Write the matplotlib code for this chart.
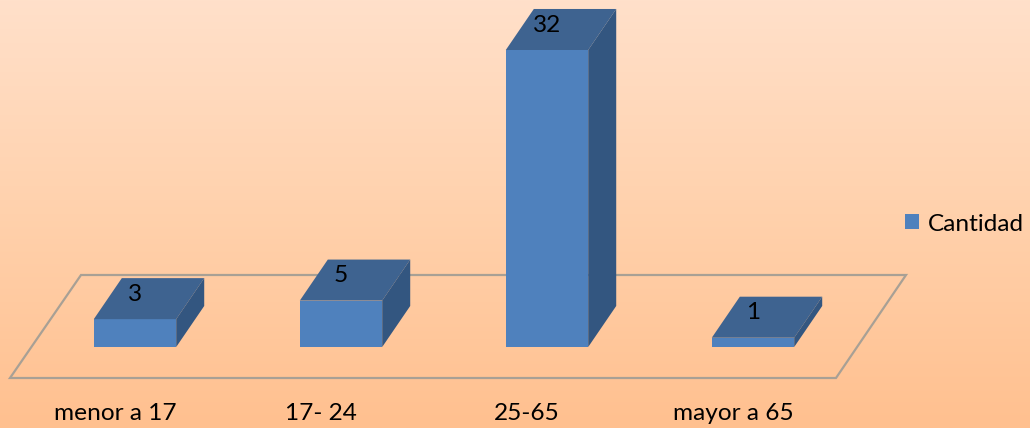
import numpy as np
import matplotlib
matplotlib.use("Agg")
import matplotlib.pyplot as plt
from matplotlib.colors import LinearSegmentedColormap
from matplotlib.patches import Polygon
from matplotlib.transforms import ScaledTranslation

categorias = ["menor a 17", "17- 24", "25-65", "mayor a 65"]
cantidad = [3, 5, 32, 1]

W, H = 1030, 428
ANCHO = 0.4
# depth of the fake 3d, in data units
DX = 0.136
DY = 4.42
LETRA = 17.6

plt.rcParams["font.family"] = ["Lato", "DejaVu Sans"]

fig = plt.figure(figsize=(W / 100, H / 100), dpi=100)

# background gradient
fondo = fig.add_axes([0, 0, 1, 1], zorder=0)
cmap = LinearSegmentedColormap.from_list("fondo", ["#FFE0CA", "#FFD1AC", "#FFC08F"])
fondo.imshow(np.linspace(0, 1, 256).reshape(-1, 1), aspect="auto", cmap=cmap)
fondo.axis("off")

# floor of the chart
piso = [(10, 378), (836, 378), (906, 275), (81, 275)]
piso = [(x / W, 1 - y / H) for x, y in piso]
fig.add_artist(Polygon(piso, closed=True, fill=False, edgecolor="#A8A095", lw=1.6,
                       transform=fig.transFigure, zorder=1))

ax = fig.add_axes([32 / W, (H - 347) / H, 824 / W, 297 / H], zorder=2)
ax.patch.set_alpha(0)
ax.set_xlim(-0.5, 3.5)
ax.set_ylim(0, 32)

pos = np.arange(len(categorias))
barras = ax.bar(pos, cantidad, ANCHO, color="#4F81BD", label="Cantidad", clip_on=False, zorder=3)

for x, v in zip(pos, cantidad):
    izq = x - ANCHO / 2
    der = x + ANCHO / 2
    ax.add_patch(Polygon([(izq, v), (der, v), (der + DX, v + DY), (izq + DX, v + DY)],
                         facecolor="#3E6390", edgecolor="none", clip_on=False, zorder=3))
    ax.add_patch(Polygon([(der, 0), (der + DX, DY), (der + DX, v + DY), (der, v)],
                         facecolor="#335680", edgecolor="none", clip_on=False, zorder=3))
    ax.annotate(str(v), (x, v), xytext=(0, 25), textcoords="offset pixels",
                ha="center", va="center", fontsize=LETRA, color="black", zorder=4)

for s in ax.spines.values():
    s.set_visible(False)
ax.set_yticks([])
ax.set_xticks(pos)
ax.set_xticklabels(categorias, fontsize=LETRA, color="black")
ax.tick_params(axis="x", length=0, pad=40.5)
# labels sit under the front edge of the floor, left of the bars
corrimiento = ScaledTranslation(-20 / 100, 0, fig.dpi_scale_trans)
for t in ax.get_xticklabels():
    t.set_transform(t.get_transform() + corrimiento)

ax.legend(loc="center left", bbox_to_anchor=(873 / 824, (347 - 224) / 297),
          frameon=False, fontsize=LETRA, handlelength=0.58, handleheight=0.58,
          handletextpad=0.37, borderpad=0, borderaxespad=0)

fig.savefig("out.png", dpi=100)
